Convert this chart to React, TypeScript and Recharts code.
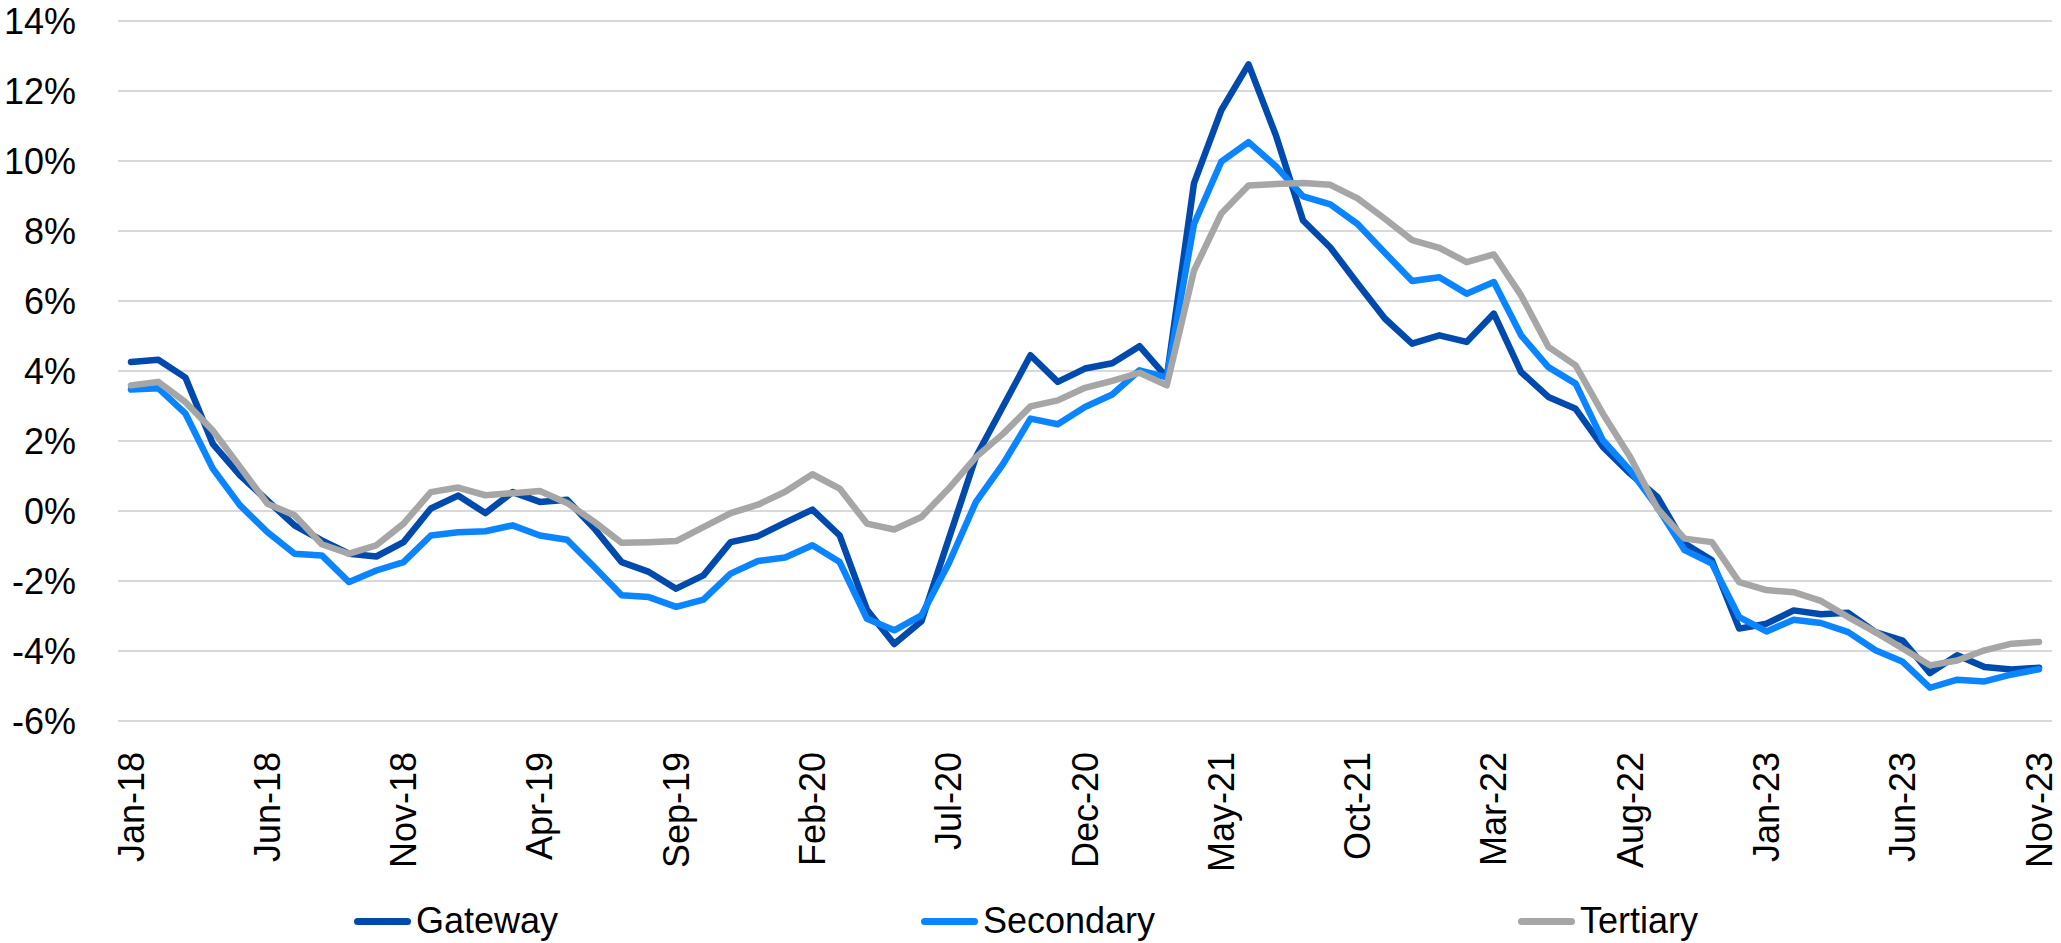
import { CartesianGrid, Legend, Line, LineChart, XAxis, YAxis } from "recharts";

const FONT = '"Liberation Sans", Arial, sans-serif';

const MONTHS = [
  "Jan-18", "Feb-18", "Mar-18", "Apr-18", "May-18", "Jun-18", "Jul-18", "Aug-18", "Sep-18", "Oct-18", "Nov-18", "Dec-18",
  "Jan-19", "Feb-19", "Mar-19", "Apr-19", "May-19", "Jun-19", "Jul-19", "Aug-19", "Sep-19", "Oct-19", "Nov-19", "Dec-19",
  "Jan-20", "Feb-20", "Mar-20", "Apr-20", "May-20", "Jun-20", "Jul-20", "Aug-20", "Sep-20", "Oct-20", "Nov-20", "Dec-20",
  "Jan-21", "Feb-21", "Mar-21", "Apr-21", "May-21", "Jun-21", "Jul-21", "Aug-21", "Sep-21", "Oct-21", "Nov-21", "Dec-21",
  "Jan-22", "Feb-22", "Mar-22", "Apr-22", "May-22", "Jun-22", "Jul-22", "Aug-22", "Sep-22", "Oct-22", "Nov-22", "Dec-22",
  "Jan-23", "Feb-23", "Mar-23", "Apr-23", "May-23", "Jun-23", "Jul-23", "Aug-23", "Sep-23", "Oct-23", "Nov-23",
];

// % change
const GATEWAY = [
  4.26, 4.32, 3.81, 1.92, 1.02, 0.3, -0.41, -0.84, -1.22, -1.3, -0.89, 0.07,
  0.44, -0.06, 0.54, 0.26, 0.32, -0.5, -1.46, -1.74, -2.22, -1.84, -0.89, -0.72,
  -0.33, 0.04, -0.7, -2.82, -3.8, -3.15, -0.8, 1.55, 3.0, 4.45, 3.69, 4.07,
  4.22, 4.71, 3.82, 9.37, 11.45, 12.76, 10.74, 8.3, 7.53, 6.5, 5.5, 4.78,
  5.02, 4.83, 5.64, 3.97, 3.26, 2.92, 1.83, 1.07, 0.4, -0.93, -1.41, -3.36,
  -3.22, -2.84, -2.95, -2.91, -3.46, -3.7, -4.63, -4.12, -4.46, -4.53, -4.48,
];

const SECONDARY = [
  3.47, 3.51, 2.78, 1.21, 0.16, -0.6, -1.22, -1.27, -2.03, -1.7, -1.46, -0.7,
  -0.61, -0.58, -0.41, -0.7, -0.82, -1.6, -2.41, -2.46, -2.74, -2.53, -1.79, -1.43,
  -1.33, -0.98, -1.46, -3.08, -3.41, -2.98, -1.5, 0.26, 1.35, 2.64, 2.48, 2.97,
  3.33, 4.02, 3.82, 8.2, 9.98, 10.54, 9.85, 8.99, 8.76, 8.2, 7.38, 6.57,
  6.68, 6.21, 6.54, 5.02, 4.11, 3.64, 2.02, 1.16, 0.11, -1.12, -1.5, -3.03,
  -3.44, -3.11, -3.2, -3.46, -3.98, -4.31, -5.05, -4.82, -4.87, -4.67, -4.52,
];

const TERTIARY = [
  3.59, 3.69, 3.11, 2.3, 1.26, 0.21, -0.12, -0.95, -1.22, -0.98, -0.36, 0.54,
  0.67, 0.45, 0.51, 0.57, 0.23, -0.31, -0.91, -0.89, -0.86, -0.46, -0.06, 0.18,
  0.55, 1.05, 0.64, -0.36, -0.53, -0.17, 0.64, 1.54, 2.21, 2.99, 3.16, 3.52,
  3.72, 3.95, 3.59, 6.87, 8.5, 9.3, 9.34, 9.37, 9.32, 8.93, 8.35, 7.74,
  7.52, 7.11, 7.33, 6.16, 4.69, 4.16, 2.78, 1.54, 0.07, -0.79, -0.89, -2.03,
  -2.26, -2.32, -2.57, -3.03, -3.46, -3.93, -4.41, -4.27, -3.98, -3.79, -3.74,
];

const Y_TICKS = [-6, -4, -2, 0, 2, 4, 6, 8, 10, 12, 14];

const SERIES = [
  { key: "gateway", name: "Gateway", color: "#004AAD" },
  { key: "secondary", name: "Secondary", color: "#0A84FF" },
  { key: "tertiary", name: "Tertiary", color: "#A6A6A6" },
];

const rows = MONTHS.map((month, i) => ({
  month,
  gateway: GATEWAY[i],
  secondary: SECONDARY[i],
  tertiary: TERTIARY[i],
}));

function MonthTick({ x, y, payload }: any) {
  return (
    <text
      x={x}
      y={y}
      transform={`rotate(-90 ${x} ${y})`}
      textAnchor="end"
      dominantBaseline="central"
      fill="#000"
      fontSize={36}
      fontFamily={FONT}
    >
      {payload.value}
    </text>
  );
}

function renderLegend() {
  return (
    <div
      style={{
        display: "flex",
        justifyContent: "center",
        alignItems: "center",
        gap: 363,
        height: 44,
        fontFamily: FONT,
        fontSize: 36,
        lineHeight: "44px",
        color: "#000",
      }}
    >
      {SERIES.map((s) => (
        <div key={s.key} style={{ display: "flex", alignItems: "center" }}>
          <span
            style={{
              display: "inline-block",
              width: 57,
              height: 7,
              borderRadius: 4,
              background: s.color,
              marginRight: 5,
            }}
          />
          <span>{s.name}</span>
        </div>
      ))}
    </div>
  );
}

export default function App() {
  // pinned to the page corner so the left labels are not clipped by the body margin
  return (
    <div style={{ position: "absolute", left: 0, top: 0, width: 2061, height: 943 }}>
      <LineChart
        width={2061}
        height={943}
        data={rows}
        margin={{ top: 21, right: 9, left: 0, bottom: 0 }}
      >
        <CartesianGrid vertical={false} stroke="#d9d9d9" strokeWidth={2} />
        <XAxis
          dataKey="month"
          interval={4}
          tick={<MonthTick />}
          tickLine={false}
          axisLine={false}
          tickSize={0}
          tickMargin={31}
          height={178}
          padding={{ left: 13, right: 13 }}
        />
        <YAxis
          domain={[-6, 14]}
          ticks={Y_TICKS}
          tickFormatter={(v) => `${v}%`}
          width={118}
          tickSize={0}
          tickMargin={42}
          axisLine={false}
          tickLine={false}
          tick={{ fill: "#000", fontSize: 36, fontFamily: FONT }}
        />
        <Legend verticalAlign="bottom" content={renderLegend} />
        {SERIES.map((s) => (
          <Line
            key={s.key}
            type="linear"
            dataKey={s.key}
            name={s.name}
            stroke={s.color}
            strokeWidth={6.5}
            strokeLinecap="round"
            strokeLinejoin="round"
            dot={false}
            activeDot={false}
            isAnimationActive={false}
          />
        ))}
      </LineChart>
    </div>
  );
}
